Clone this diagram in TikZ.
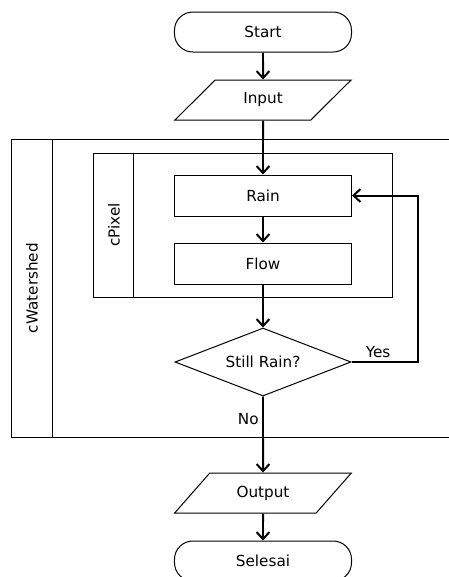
\documentclass[tikz,border=0pt]{standalone}
\usepackage{fontspec}
\setmainfont{DejaVu Sans}
\usetikzlibrary{arrows.meta,calc,positioning,shapes.geometric}

\begin{document}
\begin{tikzpicture}[>={Straight Barb[length=6pt,width=11pt]},x=0.03cm,y=-0.03cm,
  font=\fontsize{13}{15}\selectfont,
  every node/.style={line width=0.85pt},
  terminal/.style={draw,rounded corners=0.55cm,minimum width=5.31cm,minimum height=1.2cm},
  io/.style={draw,trapezium,trapezium left angle=48,trapezium right angle=132,trapezium stretches=true,minimum width=5.31cm,minimum height=1.2cm},
  process/.style={draw,minimum width=5.31cm,minimum height=1.23cm},
  decision/.style={draw,diamond,aspect=2.6,minimum width=5.28cm,minimum height=2.04cm},
  lane/.style={draw,inner sep=0pt},
  flow/.style={->,line width=1.7pt}]
\useasboundingbox (0,0) rectangle (449,577);
% swimlanes
\node[lane,minimum width=13.44cm,minimum height=8.94cm] (wshed) at (236,288) {};
\draw[line width=0.85pt] ([xshift=1.23cm]wshed.north west) -- ([xshift=1.23cm]wshed.south west);
\node[rotate=90] (wshedlab) at (32,288) {cWatershed};
\node[lane,minimum width=8.94cm,minimum height=4.32cm] (pixel) at (243,225) {};
\draw[line width=0.85pt] ([xshift=1.2cm]pixel.north west) -- ([xshift=1.2cm]pixel.south west);
\node[rotate=90] (pixellab) at (114,225) {cPixel};
% flowchart
\node[terminal] (start) at (263,32) {Start};
\node[io] (input) at (263,100) {Input};
\node[process] (rain) at (263,195.5) {Rain};
\node[process] (flowstep) at (263,263.5) {Flow};
\node[decision] (still) at (263,362) {Still Rain?};
\node[io] (output) at (263,493) {Output};
\node[terminal] (selesai) at (263,561) {Selesai};
\coordinate (loop) at (418,362);
\draw[flow] (start) -- (input);
\draw[flow] (input) -- (rain);
\draw[flow] (rain) -- (flowstep);
\draw[flow] (flowstep) -- (still);
\draw[flow] (still.east) -- node[above,pos=0.4]{Yes} (loop) |- (rain.east);
\draw[flow] (still.south) -- node[left,pos=0.3]{No} (output.north);
\draw[flow] (output) -- (selesai);
\end{tikzpicture}
\end{document}
